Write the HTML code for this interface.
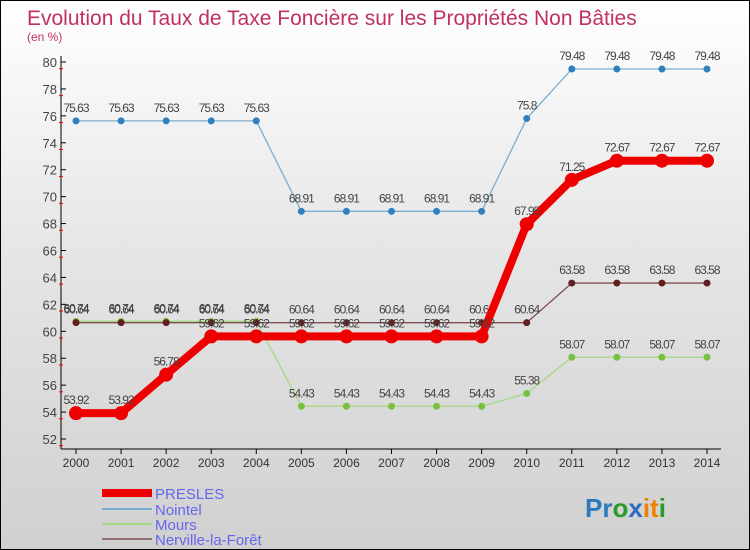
<!DOCTYPE html>
<html><head><meta charset="utf-8"><style>
body{margin:0}
#c{width:750px;height:550px;position:relative;box-sizing:border-box;border:1px solid #000;background:linear-gradient(#fff 0%,#e6e6e6 45%,#d0d0d0 100%);overflow:hidden;font-family:"Liberation Sans",sans-serif}
</style></head><body>
<div id="c">
<svg id="s" width="750" height="550" style="position:absolute;left:0;top:0">
<text x="26" y="24" font-size="21" fill="#c0315d">Evolution du Taux de Taxe Foncière sur les Propriétés Non Bâties</text>
<text x="26" y="40" font-size="12" fill="#c0315d">(en %)</text>
<g id="axes"></g><g id="marks"></g>
<g>
<rect x="101" y="488" width="50" height="8" fill="#e00"/>
<text x="154" y="498" font-size="15" fill="#66e">PRESLES</text>
<line x1="101" y1="508" x2="151" y2="508" stroke="#7aaed0" stroke-width="2"/>
<text x="154" y="514" font-size="15" fill="#66e">Nointel</text>
<line x1="101" y1="523" x2="151" y2="523" stroke="#a6d880" stroke-width="2"/>
<text x="154" y="529" font-size="15" fill="#66e">Mours</text>
<line x1="101" y1="538" x2="151" y2="538" stroke="#957070" stroke-width="2"/>
<text x="154" y="544" font-size="15" fill="#66e">Nerville-la-Forêt</text>
</g>
<text x="584" y="516" font-size="26" font-weight="bold"><tspan fill="#2a7ac0">Pr</tspan><tspan fill="#2a9a2a">o</tspan><tspan fill="#2a6ac0">x</tspan><tspan fill="#f08000">it</tspan><tspan fill="#2a9a2a">i</tspan></text>
</svg>
</div>
<script>
const years=[2000,2001,2002,2003,2004,2005,2006,2007,2008,2009,2010,2011,2012,2013,2014];
const yTicks=[52,54,56,58,60,62,64,66,68,70,72,74,76,78,80];
const presles=[53.92,53.92,56.78,59.62,59.62,59.62,59.62,59.62,59.62,59.62,67.95,71.25,72.67,72.67,72.67];
const nointel=[75.63,75.63,75.63,75.63,75.63,68.91,68.91,68.91,68.91,68.91,75.8,79.48,79.48,79.48,79.48];
const mours=[60.74,60.74,60.74,60.74,60.74,54.43,54.43,54.43,54.43,54.43,55.38,58.07,58.07,58.07,58.07];
const nerville=[60.64,60.64,60.64,60.64,60.64,60.64,60.64,60.64,60.64,60.64,60.64,63.58,63.58,63.58,63.58];
const NS='http://www.w3.org/2000/svg';
const X=i=>75+i*(631/14);
const Y=v=>438-(v-52)*(377/28);
function mk(tag,attrs,parent,txt){const e=document.createElementNS(NS,tag);for(const k in attrs)e.setAttribute(k,attrs[k]);if(txt!==undefined)e.textContent=txt;parent.appendChild(e);return e;}
const ax=document.getElementById('axes'),mg=document.getElementById('marks');
let e=mk('line',{x1:60,y1:55,x2:60,y2:448,stroke:'#000','stroke-width':1},ax);


e=mk('line',{x1:60,y1:448,x2:720,y2:448,stroke:'#000','stroke-width':1},ax);


yTicks.forEach(v=>{const y=Y(v);
mk('line',{x1:60,y1:y,x2:65,y2:y,stroke:'#000'},ax);
mk('line',{x1:58,y1:y+6.7,x2:62,y2:y+6.7,stroke:'#e00'},ax);
const t=mk('text',{x:56,y:y+5,'font-size':13,fill:'#444','text-anchor':'end'},ax,v);

});
years.forEach((yr,i)=>{mk('line',{x1:X(i),y1:448,x2:X(i),y2:453,stroke:'#000'},ax);
const t=mk('text',{x:X(i),y:466,'font-size':12,fill:'#333','text-anchor':'middle'},ax,yr);

});
function series(name,vals,color,dot,w,r){
const g=mk('g',{},mg);


mk('polyline',{points:vals.map((v,i)=>X(i)+','+Y(v)).join(' '),fill:'none',stroke:color,'stroke-width':w,'stroke-linejoin':'round'},g);
vals.forEach((v,i)=>{const c=mk('circle',{cx:X(i),cy:Y(v),r:r,fill:dot},g);


const t=mk('text',{x:X(i),y:Y(v)-9,'font-size':12,fill:'#444','text-anchor':'middle','letter-spacing':'-1'},g,v.toFixed(2).replace(/0$/,'').replace(/\.$/,''));

});}
series('mours',mours,'#a6d880','#7ac040',1.3,3.5);
series('nerville',nerville,'#805050','#602020',1.3,3.5);
series('nointel',nointel,'#7aaed0','#3080c0',1.3,3.5);
series('presles',presles,'#e00','#e00',8,7);
</script>
</body></html>
